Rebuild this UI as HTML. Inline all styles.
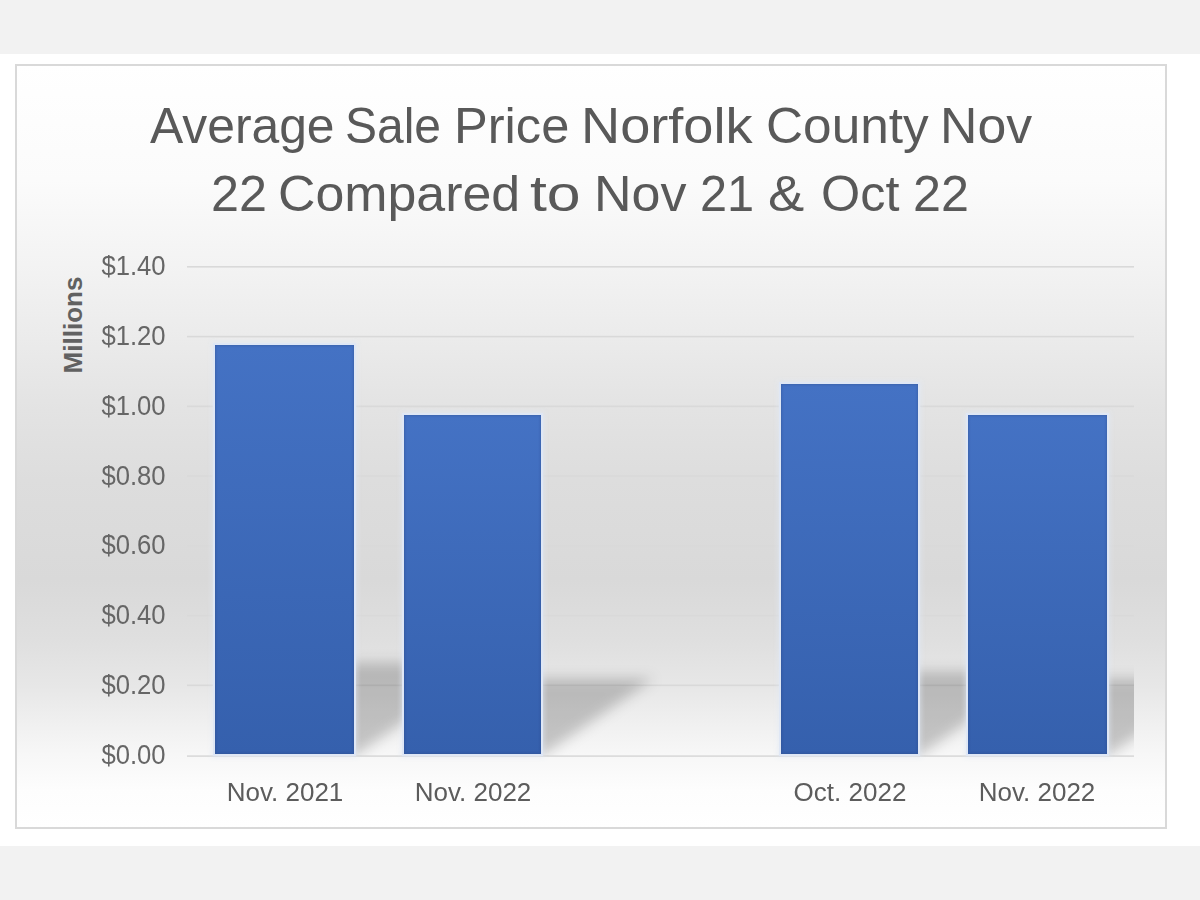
<!DOCTYPE html>
<html>
<head>
<meta charset="utf-8">
<style>
*{margin:0;padding:0;box-sizing:border-box}
html,body{width:1200px;height:900px;overflow:hidden;background:#f2f2f2;font-family:"Liberation Sans",sans-serif}
.panel{position:absolute;left:0;top:54px;width:1200px;height:792px;background:#fff}
.chart{position:absolute;left:15px;top:64px;width:1152px;height:765px;border:2px solid #d9d9d9;
background:linear-gradient(to bottom,#ffffff -0.3%,#fbfbfb 15.0%,#f4f4f4 24.8%,#ececec 34.7%,#e3e3e3 45.2%,#dddddd 54.4%,#d9d9d9 67.5%,#dfdfdf 75.4%,#e7e7e7 81.5%,#efefef 85.9%,#f7f7f7 90.5%,#fdfdfd 95.1%,#ffffff 100.1%)}
.t{position:absolute;white-space:nowrap;color:#595959;line-height:1}
.tw{position:absolute;white-space:nowrap;color:#595959;line-height:1;font-size:50.6px;transform-origin:0 50%}
.yl{font-size:27px;color:#666666;right:1034.6px;text-align:right;transform:scaleX(0.95);transform-origin:100% 50%}
.xl{font-size:25.5px;color:#5c5c5c;text-align:center;width:200px;transform:scaleX(1.02)}
.plot{position:absolute;left:187px;top:200px;width:949px;height:558px;overflow:hidden;display:block}
.bar{position:absolute;background:linear-gradient(to bottom,#4472c4,#3560ad);box-shadow:inset 0 0 2px 1px rgba(40,60,110,0.25),0 0 0 2px #dfe7f5,0 0 5px 3px rgba(225,233,246,0.65)}
.mil{position:absolute;font-weight:bold;font-size:26px;color:#616161;transform:rotate(-90deg);transform-origin:center;white-space:nowrap;line-height:1}
</style>
</head>
<body>
<div class="panel"></div>
<div class="chart"></div>

<div class="tw" style="left:149.6px;top:101px;transform:scaleX(0.984)">Average</div>
<div class="tw" style="left:345.1px;top:101px;transform:scaleX(0.948)">Sale</div>
<div class="tw" style="left:454.0px;top:101px;transform:scaleX(1.000)">Price</div>
<div class="tw" style="left:580.7px;top:101px;transform:scaleX(1.071)">Norfolk</div>
<div class="tw" style="left:766.0px;top:101px;transform:scaleX(1.015)">County</div>
<div class="tw" style="left:939.9px;top:101px;transform:scaleX(1.023)">Nov</div>
<div class="tw" style="left:211.3px;top:169px;transform:scaleX(0.994)">22</div>
<div class="tw" style="left:278.0px;top:169px;transform:scaleX(1.025)">Compared</div>
<div class="tw" style="left:529.5px;top:169px;transform:scaleX(1.2)">to</div>
<div class="tw" style="left:594.2px;top:169px;transform:scaleX(1.028)">Nov</div>
<div class="tw" style="left:699.8px;top:169px;transform:scaleX(0.962)">21</div>
<div class="tw" style="left:767.9px;top:169px;transform:scaleX(1.074)">&amp;</div>
<div class="tw" style="left:821.3px;top:169px;transform:scaleX(0.996)">Oct</div>
<div class="tw" style="left:913.0px;top:169px;transform:scaleX(0.994)">22</div>

<svg class="plot" width="949" height="558" viewBox="0 0 949 558">
<defs><clipPath id="c"><rect x="0" y="0" width="947" height="555.5"/></clipPath><filter id="b" x="-20%" y="-50%" width="140%" height="200%"><feGaussianBlur stdDeviation="6.5"/></filter></defs>
<g fill="#d9d9d9"><rect x="0" y="66.0" width="947" height="1.6"/><rect x="0" y="135.8" width="947" height="1.6"/><rect x="0" y="205.5" width="947" height="1.6"/><rect x="0" y="275.2" width="947" height="1.6"/><rect x="0" y="345.0" width="947" height="1.6"/><rect x="0" y="414.8" width="947" height="1.6"/><rect x="0" y="484.5" width="947" height="1.6"/><rect x="0" y="555.3" width="947" height="1.6"/></g>
<g fill="rgba(0,0,0,0.2)" filter="url(#b)" clip-path="url(#c)"><polygon points="30.0,555.0 169.0,555.0 302.8,462.8 163.8,462.8"/><polygon points="219.0,555.0 356.0,555.0 466.9,478.5 329.9,478.5"/><polygon points="596.0,555.0 733.0,555.0 854.0,471.5 717.0,471.5"/><polygon points="783.0,555.0 922.0,555.0 1032.9,478.5 893.9,478.5"/></g>
</svg>

<div class="bar" style="left:215px;top:345px;width:139px;height:409px"></div>
<div class="bar" style="left:404px;top:415px;width:137px;height:339px"></div>
<div class="bar" style="left:781px;top:384px;width:137px;height:370px"></div>
<div class="bar" style="left:968px;top:415px;width:139px;height:339px"></div>

<div class="t yl" style="top:253px">$1.40</div>
<div class="t yl" style="top:323px">$1.20</div>
<div class="t yl" style="top:393px">$1.00</div>
<div class="t yl" style="top:463px">$0.80</div>
<div class="t yl" style="top:532px">$0.60</div>
<div class="t yl" style="top:602px">$0.40</div>
<div class="t yl" style="top:672px">$0.20</div>
<div class="t yl" style="top:742px">$0.00</div>

<div class="mil" style="left:25px;top:311.5px">Millions</div>

<div class="t xl" style="left:185px;top:779.8px">Nov. 2021</div>
<div class="t xl" style="left:373px;top:779.8px">Nov. 2022</div>
<div class="t xl" style="left:750px;top:779.8px">Oct. 2022</div>
<div class="t xl" style="left:937px;top:779.8px">Nov. 2022</div>
</body>
</html>
